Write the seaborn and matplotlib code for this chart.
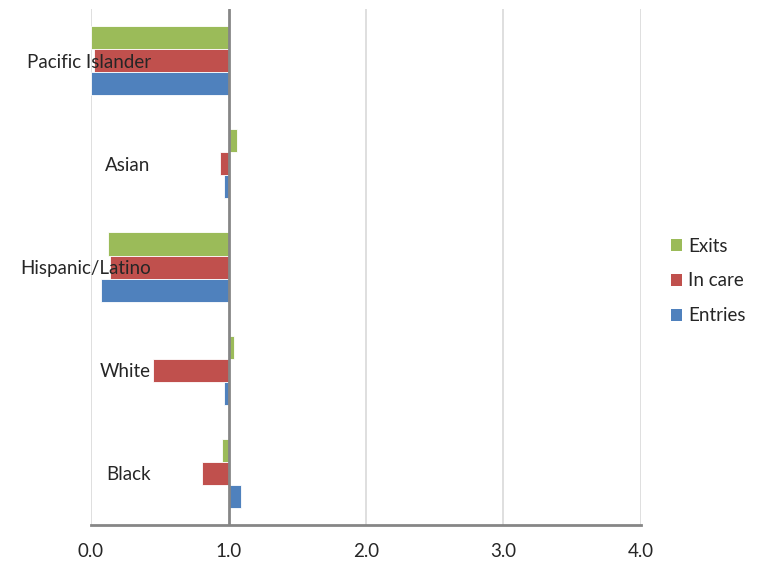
import numpy as np
import pandas as pd
import matplotlib
matplotlib.use('Agg')
import matplotlib.pyplot as plt
from matplotlib.patches import Patch
import seaborn as sns

# Ratios (bars drawn from the 1.0 baseline)
groups = ['Pacific Islander', 'Asian', 'Hispanic/Latino', 'White', 'Black']
exits = [0.00, 1.06, 0.12, 1.04, 0.95]
in_care = [0.02, 0.94, 0.14, 0.45, 0.81]
entries = [0.00, 0.97, 0.07, 0.97, 1.09]
series = ['Exits', 'In care', 'Entries']
colors = ['#9BBB59', '#C0504D', '#4F81BD']
xticks = [0.0, 1.0, 2.0, 3.0, 4.0]

df = pd.DataFrame({'group': groups * 3,
                   'series': np.repeat(series, len(groups)),
                   'value': exits + in_care + entries})
baseline = 1.0
df['delta'] = df['value'] - baseline

sns.set_style('white')
plt.rcParams['font.family'] = ['Lato', 'DejaVu Sans']
fs = 13.5

fig = plt.figure(figsize=(7.61, 5.64), dpi=100)
ax = fig.add_axes([0.1196, 0.0691, 0.7227, 0.9149])

sns.barplot(data=df, x='delta', y='group', hue='series', order=groups,
            hue_order=series, palette=colors, saturation=1, orient='h',
            width=0.67, left=baseline, edgecolor='white', linewidth=0.6,
            ax=ax, legend=False)

ax.set_xlim(0, 4)
ax.set_ylim(4.5, -0.5)
ax.set_xticks(xticks)
ax.set_xticklabels([f'{t:.1f}' for t in xticks], fontsize=fs)
ax.tick_params(axis='x', length=0, pad=13)
ax.tick_params(axis='y', length=0, pad=-43, labelsize=fs)
ax.yaxis.set_zorder(5)
ax.set_xlabel('')
ax.set_ylabel('')

for t in xticks:
    if t != baseline:
        ax.axvline(t, color='#D9D9D9', lw=1.2, zorder=0)
ax.axvline(baseline, color='#868686', lw=2, zorder=4)

for s in ['top', 'right', 'left']:
    ax.spines[s].set_visible(False)
ax.spines['bottom'].set_color('#868686')
ax.spines['bottom'].set_linewidth(2)

handles = [Patch(facecolor=c, edgecolor='none') for c in colors]
fig.legend(handles, series, loc='center left', bbox_to_anchor=(0.859, 0.502),
           frameon=False, fontsize=fs, handlelength=0.6, handleheight=0.6,
           handletextpad=0.35, labelspacing=0.95)

fig.savefig('out.png', dpi=100)
